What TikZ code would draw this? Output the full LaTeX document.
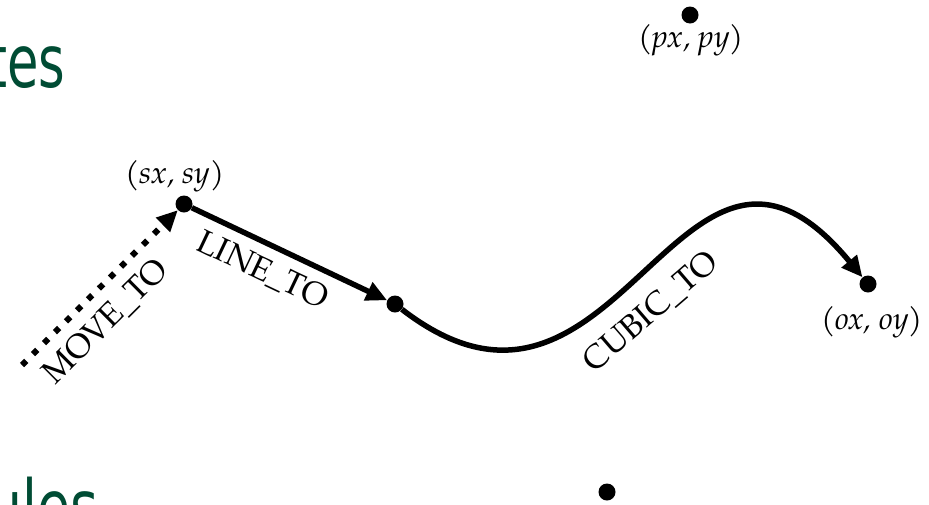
\documentclass[tikz,border=0pt]{standalone}
\usepackage{fontspec}
\usetikzlibrary{arrows.meta}
\newfontfamily\headfont{DejaVu Sans}
\newfontfamily\palfont{TeX Gyre Pagella}
\definecolor{headgreen}{RGB}{0,76,52}
\tikzset{
  pt/.style={circle, fill=black, inner sep=0pt, minimum size=17pt},
  coordlabel/.style={font=\palfont\itshape\fontsize{31}{36}\selectfont, inner sep=0pt},
  oplabel/.style={font=\palfont\fontsize{33}{38}\selectfont, sloped, below, inner sep=#1},
  oplabel/.default=11pt,
  head/.style={font=\headfont\fontsize{73}{80}\selectfont, text=headgreen, xscale=0.7, anchor=base west, inner sep=0pt},
  seg/.style={line width=5.5pt, -{Triangle[length=21pt,width=19pt]}},
  movestyle/.style={line width=6pt, dash pattern=on 6pt off 9.5pt, -{Triangle[length=21pt,width=19pt]}},
}
\begin{document}
\begin{tikzpicture}[x=1pt,y=-1pt]
  \fill[white] (0,0) rectangle (929,504);
  \useasboundingbox (0,0) rectangle (929,504);

  % slide headings, partly off the page
  \node[head] (h1) at (-13,87) {tes};
  \node[head, xscale=1.05] (h2) at (-12,532) {ules};

  % path points
  \node[pt] (s) at (184,204) {};
  \node[pt] (m) at (395,304) {};
  \node[pt] (o) at (868,284) {};
  \node[pt] (p) at (690,15) {};
  \node[pt] (q) at (607,492) {};
  \coordinate (m0) at (22,365);

  % point labels
  \node[coordlabel] (sl) at (175,176) {(sx, sy)};
  \node[coordlabel] (pl) at (691,40) {(px, py)};
  \node[coordlabel] (ol) at (872,322) {(ox, oy)};

  % path segments
  \draw[movestyle] (m0) -- (s) node[pos=0.41, oplabel=12pt] {MOVE\_TO};
  \draw[seg] (s) -- (m) node[pos=0.42, oplabel=10pt] {LINE\_TO};
  \draw[seg] (m) .. controls (620,478) and (680,56) .. (o)
    node[pos=0.46, oplabel=16pt] {CUBIC\_TO};
\end{tikzpicture}
\end{document}
